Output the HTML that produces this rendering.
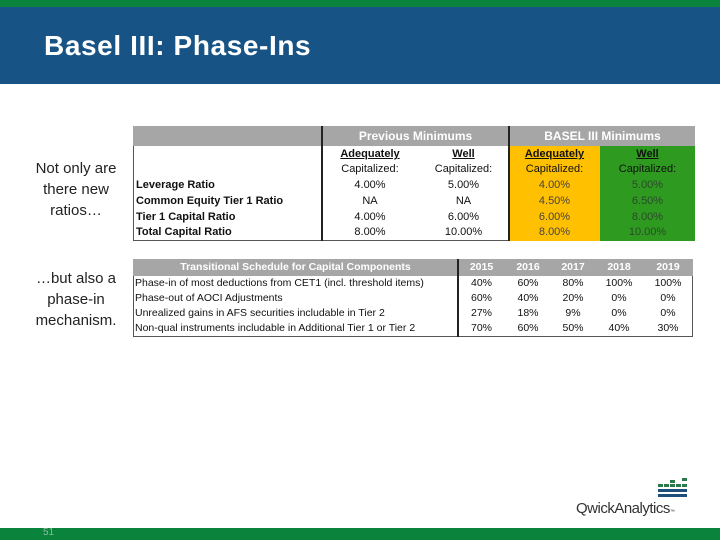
<!DOCTYPE html>
<html><head><meta charset="utf-8"><style>
body{margin:0;width:720px;height:540px;position:relative;overflow:hidden;background:#fff;font-family:"Liberation Sans",sans-serif}
.a{position:absolute}
.c{position:absolute;text-align:center;font-size:11px;line-height:15px;color:#111}
.l{position:absolute;font-size:11px;line-height:15px;color:#111;white-space:nowrap}
.b{font-weight:bold}
</style></head><body>
<div class="a" style="left:0;top:0;width:720px;height:7px;background:#0a843d"></div>
<div class="a" style="left:0;top:7px;width:720px;height:77px;background:#175385"></div>
<div class="a" style="left:44px;top:30px;color:#fff;font-size:28px;font-weight:bold;letter-spacing:0.6px">Basel III: Phase-Ins</div>

<div class="a" style="left:22px;top:158px;width:108px;text-align:center;font-size:15px;line-height:21px;color:#222">Not only are there new ratios…</div>
<div class="a" style="left:22px;top:268px;width:108px;text-align:center;font-size:15px;line-height:21px;color:#222">…but also a phase-in mechanism.</div>

<div class="a" style="left:133px;top:126px;width:562px;height:115px;border:1px solid #555;box-sizing:border-box"></div>
<div class="a" style="left:133px;top:126px;width:562px;height:20px;background:#a6a6a6"></div>
<div class="a" style="left:509px;top:146px;width:91px;height:95px;background:#ffc000"></div>
<div class="a" style="left:600px;top:146px;width:95px;height:95px;background:#2e9a1f"></div>
<div class="a" style="left:321px;top:126px;width:2px;height:115px;background:#222"></div>
<div class="a" style="left:508px;top:126px;width:2px;height:115px;background:#222"></div>
<div class="c b" style="left:323px;top:129px;width:185px;color:#fff;font-size:12px">Previous Minimums</div>
<div class="c b" style="left:510px;top:129px;width:185px;color:#fff;font-size:12px">BASEL III Minimums</div>
<div id="t1"></div>

<div class="a" style="left:133px;top:259px;width:560px;height:78px;border:1px solid #555;box-sizing:border-box"></div>
<div class="a" style="left:133px;top:259px;width:560px;height:17px;background:#a6a6a6"></div>
<div class="a" style="left:457px;top:259px;width:2px;height:78px;background:#222"></div>
<div id="t2"></div>

<div class="a" style="left:658px;top:478px;width:30px;height:22px">
<svg width="30" height="22"><g fill="#2a7a4a">
<rect x="12" y="2" width="5" height="3"/><rect x="24" y="0" width="5" height="3"/>
<rect x="0" y="6" width="5" height="3"/><rect x="6" y="6" width="5" height="3"/><rect x="12" y="6" width="5" height="3"/><rect x="18" y="6" width="5" height="3"/><rect x="24" y="6" width="5" height="3"/>
</g><g fill="#1d4f7a"><rect x="0" y="11" width="29" height="3"/><rect x="0" y="16" width="29" height="3"/></g></svg></div>
<div class="a" style="left:576px;top:500px;font-size:15px;color:#333;letter-spacing:-0.5px">QwickAnalytics<span style="font-size:5px">™</span></div>

<div class="a" style="left:0;top:528px;width:720px;height:12px;background:#0a843d"></div>
<div class="a" style="left:43px;top:527px;font-size:10px;color:#8fb8a0">51</div>

<script>
const rowLabels1=["Leverage Ratio","Common Equity Tier 1 Ratio","Tier 1 Capital Ratio","Total Capital Ratio"];
const prevAdequate=["4.00%","NA","4.00%","8.00%"];
const prevWell=["5.00%","NA","6.00%","10.00%"];
const baselAdequate=["4.00%","4.50%","6.00%","8.00%"];
const baselWell=["5.00%","6.50%","8.00%","10.00%"];
const years=["2015","2016","2017","2018","2019"];
const rowLabels2=["Phase-in of most deductions from CET1 (incl. threshold items)","Phase-out of AOCI Adjustments","Unrealized gains in AFS securities includable in Tier 2","Non-qual instruments includable in Additional Tier 1 or Tier 2"];
const sched=[["40%","60%","80%","100%","100%"],["60%","40%","20%","0%","0%"],["27%","18%","9%","0%","0%"],["70%","60%","50%","40%","30%"]];
function mk(p,cls,name,txt,l,t,w,extra){const d=document.createElement('div');d.className=cls;


d.style.left=l+'px';d.style.top=t+'px';if(w)d.style.width=w+'px';if(extra)d.style.cssText+=extra;d.innerHTML=txt;p.appendChild(d);}
const t1=document.getElementById('t1');
const cols1=[[322,96],[418,91],[509,91],[600,95]];
cols1.forEach((c,i)=>{
 mk(t1,'c b','col-head-'+i,'<u>'+(i%2?'Well':'Adequately')+'</u>',c[0],147,c[1]);
 mk(t1,'c','col-sub-'+i,'Capitalized:',c[0],162,c[1]);
});
const colsData=[prevAdequate,prevWell,baselAdequate,baselWell];
rowLabels1.forEach((r,i)=>{const y=178+i*15.8;
 mk(t1,'l b','row-label',r,136,y);
 colsData.forEach((arr,j)=>mk(t1,'c','cell',arr[i],cols1[j][0],y,cols1[j][1],(j==2?'color:#444':(j==3?'color:#2a4a2a':''))));
});
const t2=document.getElementById('t2');
mk(t2,'c b','table2-title','Transitional Schedule for Capital Components',133,260,325,'color:#fff;font-size:10.5px');
const cols2=[[458,47],[505,46],[551,44],[595,48],[643,50]];
years.forEach((y,j)=>mk(t2,'c b','year-'+y,y,cols2[j][0],260,cols2[j][1],'color:#fff;font-size:10.5px'));
rowLabels2.forEach((r,i)=>{const y=276+i*15;
 mk(t2,'l','schedule-label',r,135,y,null,'font-size:10.5px');
 sched[i].forEach((v,j)=>mk(t2,'c','schedule-cell',v,cols2[j][0],y,cols2[j][1],'font-size:10.5px'));
});
</script>
</body></html>
